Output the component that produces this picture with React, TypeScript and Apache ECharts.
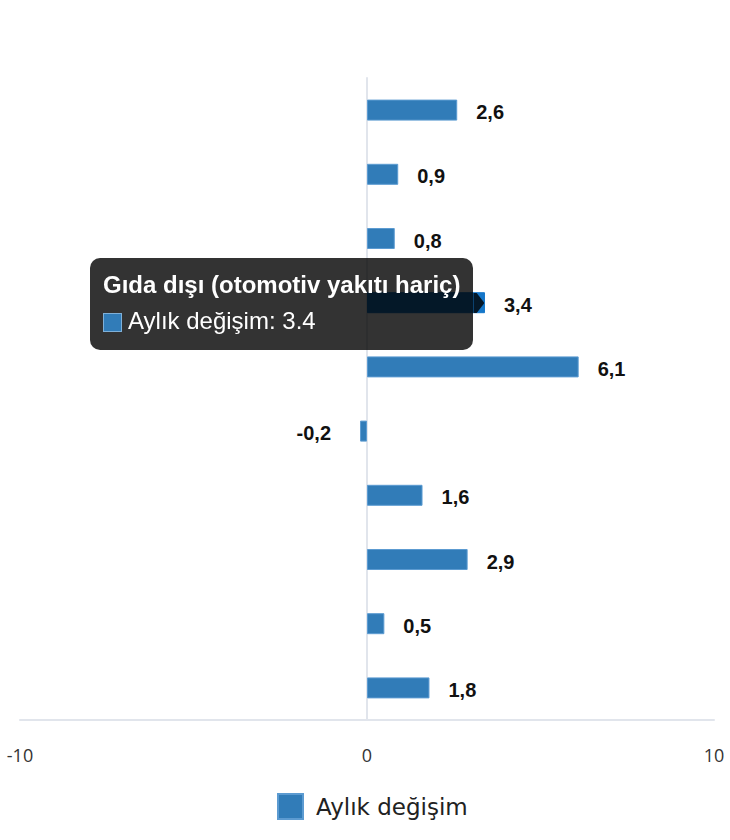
import React, { useEffect, useRef } from 'react';
import * as echarts from 'echarts';

const categories = [
  'Perakende satış (toplam)',
  'Gıda, içecek ve tütün',
  'Otomotiv yakıtı',
  'Gıda dışı (otomotiv yakıtı hariç)',
  'Bilgisayar, kitap, telekomünikasyon',
  'Tekstil, giyim ve ayakkabı',
  'Elektrikli eşya, mobilya',
  'Eczacılık ve tıbbi ürünler',
  'Diğer gıda dışı ürünler',
  'Posta veya internet yoluyla satış',
];

const monthlyChange = [2.6, 0.9, 0.8, 3.4, 6.1, -0.2, 1.6, 2.9, 0.5, 1.8];

const seriesName = 'Aylık değişim';
const xTicks = { min: -10, max: 10, interval: 10 };
const activeIndex = 3;

const BAR_COLOR = '#317cb8';

const App: React.FC = () => {
  const chartRef = useRef<HTMLDivElement>(null);

  useEffect(() => {
    document.body.style.margin = '0';
    if (!chartRef.current) return;
    const chart = echarts.init(chartRef.current, undefined, { renderer: 'svg' });

    chart.setOption({
      animation: false,
      grid: { left: 20, right: 16, top: 78, bottom: 120, containLabel: false },
      tooltip: {
        trigger: 'item',
        triggerOn: 'none',
        alwaysShowContent: true,
        position: [90, 258],
        backgroundColor: 'rgba(0,0,0,0.8)',
        borderWidth: 0,
        padding: [12, 13],
        extraCssText: 'border-radius:10px;box-shadow:none;',
        formatter: (p: any) => {
          const marker =
            `<span style="display:inline-block;width:19px;height:19px;background:${BAR_COLOR};` +
            'border:1px solid #7fb0d8;box-sizing:border-box;vertical-align:-3px;margin-right:6px;"></span>';
          // pointer that ties the box to the hovered bar
          const arrow =
            '<div style="position:absolute;right:-11px;top:35px;width:11px;height:20px;' +
            'background:rgba(0,0,0,0.8);clip-path:polygon(0 0,30% 0,100% 50%,30% 100%,0 100%);"></div>';
          return (
            `<div style="font-family:'Liberation Sans',Arial,sans-serif;color:#fff;">` +
            `<div style="font-size:24px;font-weight:bold;line-height:30px;">${p.name}</div>` +
            `<div style="font-size:24px;line-height:34px;margin-top:4px;">${marker}${p.seriesName}: ${p.value}</div>` +
            `</div>${arrow}`
          );
        },
      },
      legend: {
        bottom: 20,
        left: 277,
        padding: 0,
        icon: 'rect',
        itemWidth: 25,
        itemHeight: 25,
        itemGap: 14,
        textStyle: { fontFamily: 'DejaVu Sans', fontSize: 23, color: '#222', padding: [0, 0, 0, 8] },
        data: [seriesName],
      },
      xAxis: {
        type: 'value',
        min: xTicks.min,
        max: xTicks.max,
        interval: xTicks.interval,
        axisLine: { show: true, lineStyle: { color: '#e1e5ec', width: 2 } },
        axisTick: { show: false },
        splitLine: { show: false },
        axisLabel: {
          margin: 26,
          fontFamily: 'Open Sans',
          fontSize: 18,
          color: '#333',
        },
      },
      yAxis: {
        type: 'category',
        inverse: true,
        data: categories,
        axisLine: { show: true, onZero: true, lineStyle: { color: '#e1e5ec', width: 2 } },
        axisTick: { show: false },
        axisLabel: { show: false },
      },
      series: [
        {
          name: seriesName,
          type: 'bar',
          data: monthlyChange.map((v) => ({
            value: v,
            label: v < 0 ? { position: 'left', distance: 29 } : { position: 'right', distance: 19 },
          })),
          barWidth: 21,
          itemStyle: { color: BAR_COLOR, borderColor: '#5c9bd1', borderWidth: 1 },
          emphasis: { itemStyle: { color: '#1577c9', borderColor: '#1577c9' } },
          label: {
            show: true,
            offset: [0, 2],
            fontFamily: 'Liberation Sans',
            fontWeight: 'bold',
            fontSize: 20,
            color: '#111',
            formatter: (p: any) => String(p.value).replace('.', ','),
          },
        },
      ],
    });

    chart.dispatchAction({ type: 'highlight', seriesIndex: 0, dataIndex: activeIndex });
    chart.dispatchAction({ type: 'showTip', seriesIndex: 0, dataIndex: activeIndex });

    return () => {
      chart.dispose();
    };
  }, []);

  return <div ref={chartRef} style={{ width: '730px', height: '840px' }} />;
};

export default App;
